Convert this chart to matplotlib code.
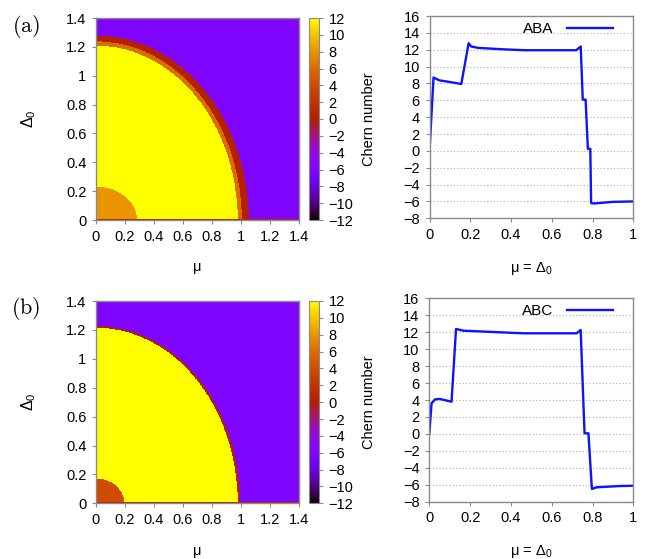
import numpy as np
import matplotlib
matplotlib.use("Agg")
import matplotlib.pyplot as plt
from matplotlib.ticker import FuncFormatter

plt.rcParams['font.family'] = ['Liberation Sans', 'DejaVu Sans']
plt.rcParams['mathtext.fontset'] = 'custom'
plt.rcParams['mathtext.rm'] = 'Liberation Sans'
plt.rcParams['mathtext.it'] = 'Liberation Sans'
plt.rcParams['font.size'] = 10.5

# ---------------- data ----------------
# phase regions: (semi-axis along mu, semi-axis along Delta0, Chern number), outer -> inner
background_value = -6
gap_row_value = 0
aba_region_mu = [1.053, 1.005, 0.977, 0.283]
aba_region_delta = [1.278, 1.238, 1.208, 0.231]
aba_region_value = [0, 6, 12, 8]

abc_region_mu = [0.993, 0.977, 0.195]
abc_region_delta = [1.219, 1.208, 0.169]
abc_region_value = [0, 12, 4]

# Chern number along mu = Delta0
aba_x = [0.0, 0.0197, 0.049, 0.082, 0.156, 0.192, 0.205, 0.238, 0.352, 0.467, 0.72,
         0.742, 0.752, 0.766, 0.777, 0.789, 0.793, 0.808, 0.9, 1.0]
aba_y = [0.0, 8.7, 8.36, 8.24, 7.93, 12.77, 12.38, 12.22, 12.06, 11.94, 11.94,
         12.38, 6.08, 6.08, 0.25, 0.25, -6.2, -6.24, -6.05, -6.0]

abc_x = [0.0, 0.011, 0.028, 0.052, 0.109, 0.131, 0.167, 0.346, 0.46, 0.722,
         0.742, 0.761, 0.78, 0.797, 0.82, 0.935, 1.0]
abc_y = [0.0, 3.6, 4.08, 4.12, 3.8, 12.38, 12.18, 11.99, 11.87, 11.87,
         12.26, 0.07, 0.07, -6.5, -6.3, -6.15, -6.12]

map_ticks = [0, 0.2, 0.4, 0.6, 0.8, 1.0, 1.2, 1.4]
cb_ticks = list(range(-12, 13, 2))
line_xticks = [0, 0.2, 0.4, 0.6, 0.8, 1.0]
line_yticks = list(range(-8, 17, 2))

# ---------------- figure ----------------
W, H = 647, 559
fig = plt.figure(figsize=(W / 100, H / 100), dpi=100)

def frac(x0, y0, x1, y1):
    return [x0 / W, 1 - y1 / H, (x1 - x0) / W, (y1 - y0) / H]

frame_color = '#8a8a8a'
fmt = FuncFormatter(lambda v, p: ('%g' % round(v, 6)))

def style_axes(ax):
    for s in ax.spines.values():
        s.set_color(frame_color)
        s.set_linewidth(1.0)
    ax.tick_params(direction='out', length=3, width=0.8, color=frame_color,
                   labelsize=10.5, pad=4)

def phase_map(ax, cax, rmu, rdel, rval):
    n = 700
    edges = np.linspace(0, 1.4, n + 1)
    c = 0.5 * (edges[:-1] + edges[1:])
    MU, DE = np.meshgrid(c, c)
    Z = np.full(MU.shape, float(background_value))
    for a, b, v in zip(rmu, rdel, rval):
        inside = (MU / a) ** 2 + (DE / b) ** 2 <= 1.0
        Z[inside] = v
    Z[DE < 0.007] = gap_row_value
    m = ax.imshow(Z, origin='lower', extent=(0, 1.4, 0, 1.4), cmap='gnuplot',
                  vmin=-12, vmax=12, interpolation='nearest', aspect='auto')
    ax.set_xlim(0, 1.4)
    ax.set_ylim(0, 1.4)
    ax.set_xticks(map_ticks)
    ax.set_yticks(map_ticks)
    ax.xaxis.set_major_formatter(fmt)
    ax.yaxis.set_major_formatter(fmt)
    style_axes(ax)
    ax.set_xlabel('μ', labelpad=12)
    ax.set_ylabel(r'$\Delta_0$', labelpad=20, fontsize=11.5)
    cb = fig.colorbar(m, cax=cax, ticks=cb_ticks)
    cb.outline.set_edgecolor(frame_color)
    cax.tick_params(direction='out', length=3, width=0.8, color=frame_color,
                    labelsize=10.5, pad=4)
    cb.set_label('Chern number', labelpad=6)

def line_plot(ax, x, y, name):
    ax.plot(x, y, color='#0a14ff', lw=1.7, label=name)
    ax.set_xlim(0, 1)
    ax.set_ylim(-8, 16)
    ax.set_xticks(line_xticks)
    ax.set_yticks(line_yticks)
    ax.xaxis.set_major_formatter(fmt)
    ax.grid(axis='y', color='#b0b0b0', linestyle=(0, (1, 2)), linewidth=0.8)
    style_axes(ax)
    ax.set_xlabel(r'μ = $\Delta_0$', labelpad=13)
    ax.legend(loc='upper right', bbox_to_anchor=(0.93, 1.0), frameon=False,
              markerfirst=False, handlelength=3.0, borderaxespad=0.0,
              handletextpad=0.9, fontsize=11)

ax_a = fig.add_axes(frac(96, 18, 299, 220))
cax_a = fig.add_axes(frac(309, 18, 319, 220))
ln_a = fig.add_axes(frac(429.5, 16, 633.3, 218.3))
ax_b = fig.add_axes(frac(96, 301, 299, 503.3))
cax_b = fig.add_axes(frac(309, 301, 319, 503.3))
ln_b = fig.add_axes(frac(429.3, 298.3, 633.3, 501.7))

phase_map(ax_a, cax_a, aba_region_mu, aba_region_delta, aba_region_value)
phase_map(ax_b, cax_b, abc_region_mu, abc_region_delta, abc_region_value)
line_plot(ln_a, aba_x, aba_y, 'ABA')
line_plot(ln_b, abc_x, abc_y, 'ABC')

fig.text(26 / W, 1 - 27 / H, r'$\mathrm{(a)}$', math_fontfamily='cm', fontsize=16,
         ha='center', va='center')
fig.text(26 / W, 1 - 308 / H, r'$\mathrm{(b)}$', math_fontfamily='cm', fontsize=16,
         ha='center', va='center')

fig.savefig('out.png', dpi=100)
